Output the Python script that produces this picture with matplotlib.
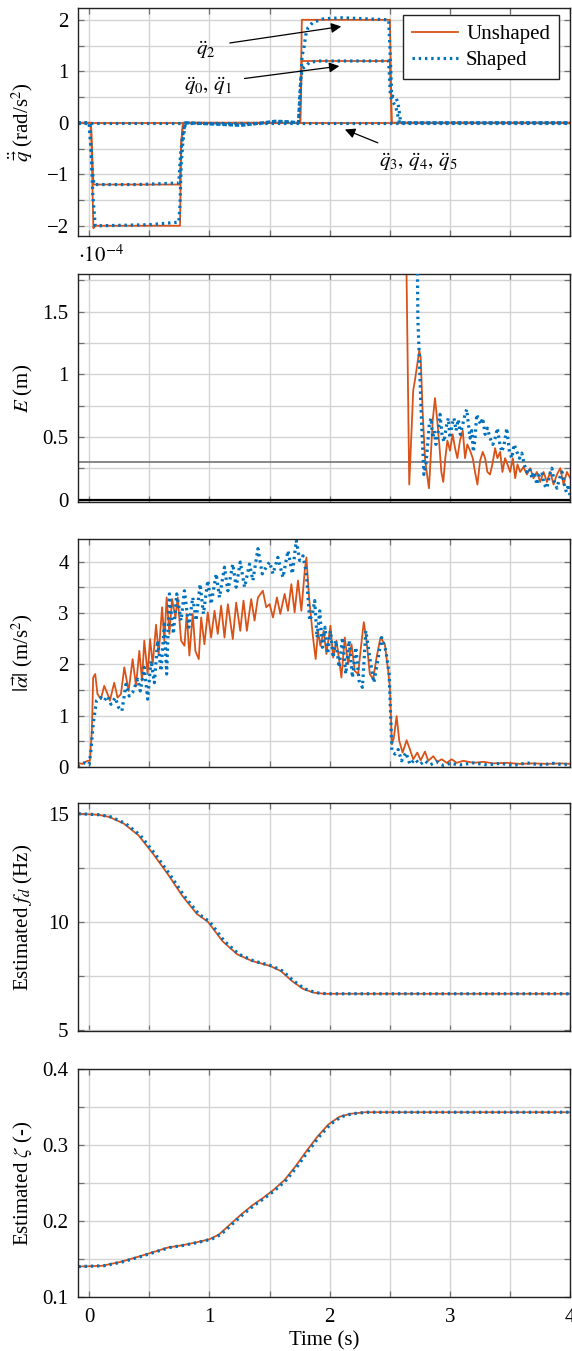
import matplotlib
matplotlib.use("Agg")
import matplotlib.pyplot as plt
from matplotlib.ticker import MultipleLocator, FuncFormatter

plt.rcParams['font.family'] = ['Liberation Serif', 'DejaVu Serif']
plt.rcParams['mathtext.fontset'] = 'stix'
plt.rcParams['font.size'] = 15

C_U = '#D95319'
C_S = '#0072BD'

# ---------------- Panel 1: joint accelerations ----------------
t_q2_u = [-0.09, 0.015, 0.035, 0.045, 0.755, 0.765, 0.78, 1.755, 1.768, 2.5, 2.515, 4.0]
q2_u = [0, 0, -2.05, -2.0, -2.0, -0.4, 0, 0, 2.0, 2.0, 0, 0]
t_q01_u = [-0.09, 0.015, 0.035, 0.755, 0.765, 0.78, 1.755, 1.768, 2.5, 2.515, 4.0]
q01_u = [0, 0, -1.2, -1.2, -0.4, 0, 0, 1.2, 1.2, 0, 0]
t_q345 = [-0.09, 4.0]
q345 = [0, 0]

t_q2_s = [-0.09, 0.0, 0.015, 0.03, 0.05, 0.1, 0.5, 0.745, 0.755, 0.765, 0.78, 0.8, 1.0, 1.26,
          1.45, 1.55, 1.65, 1.74, 1.755, 1.77, 1.785, 1.80, 1.82, 1.86, 1.95, 2.1, 2.3, 2.49,
          2.505, 2.515, 2.55, 2.57, 2.59, 4.0]
q2_s = [0, 0, -0.5, -1.4, -2.0, -2.0, -1.98, -1.93, -1.6, -0.8, -0.35, 0.0, -0.02, -0.05,
        0.0, 0.03, 0.02, 0.0, 0.6, 1.3, 1.45, 1.7, 1.85, 1.95, 2.02, 2.04, 2.02, 2.0,
        1.2, 0.52, 0.5, 0.35, 0.0, 0]
t_q01_s = [-0.09, 0.0, 0.01, 0.025, 0.04, 0.4, 0.745, 0.76, 0.78, 0.8, 1.0, 1.26, 1.45, 1.55,
           1.65, 1.74, 1.75, 1.76, 1.775, 1.80, 1.83, 1.9, 2.49, 2.505, 2.55, 2.58, 4.0]
q01_s = [0, 0, -0.3, -0.9, -1.2, -1.2, -1.17, -0.6, -0.2, 0.0, -0.02, -0.05, 0.0, 0.03,
         0.02, 0.0, 0.5, 0.9, 1.05, 1.1, 1.17, 1.2, 1.2, 0.5, 0.3, 0.0, 0]

# ---------------- Panel 2: error E (units of 1e-4 m) ----------------
t_E_u = [2.62, 2.628, 2.661, 2.681, 2.694, 2.708, 2.728, 2.744, 2.756, 2.772, 2.792, 2.806,
         2.825, 2.839, 2.856, 2.875, 2.894, 2.911, 2.928, 2.944, 2.961, 2.978, 3.0, 3.022,
         3.042, 3.061, 3.083, 3.106, 3.125, 3.144, 3.167, 3.189, 3.208, 3.228, 3.25, 3.272,
         3.292, 3.311, 3.333, 3.356, 3.375, 3.394, 3.417, 3.436, 3.458, 3.478, 3.5, 3.522,
         3.542, 3.561, 3.583, 3.611, 3.639, 3.667, 3.694, 3.722, 3.75, 3.778, 3.806, 3.833,
         3.861, 3.889, 3.917, 3.944, 3.972, 4.0]
E_u = [3.0, 2.6, 0.12, 0.57, 0.87, 0.95, 1.08, 1.19, 1.14, 0.71, 0.33, 0.22,
       0.09, 0.33, 0.63, 0.81, 0.63, 0.44, 0.22, 0.14, 0.33, 0.47, 0.39, 0.52,
       0.41, 0.33, 0.47, 0.55, 0.33, 0.44, 0.39, 0.33, 0.22, 0.12, 0.31, 0.38,
       0.33, 0.22, 0.20, 0.30, 0.41, 0.33, 0.38, 0.22, 0.33, 0.28, 0.22, 0.33,
       0.17, 0.28, 0.22, 0.26, 0.20, 0.25, 0.17, 0.22, 0.14, 0.22, 0.14, 0.22,
       0.12, 0.20, 0.25, 0.12, 0.22, 0.17]
t_E_s = [2.715, 2.722, 2.733, 2.744, 2.756, 2.769, 2.783, 2.8, 2.814, 2.828, 2.842, 2.856,
         2.869, 2.883, 2.903, 2.917, 2.933, 2.95, 2.967, 2.986, 3.0, 3.017, 3.033, 3.05,
         3.069, 3.086, 3.106, 3.125, 3.139, 3.153, 3.167, 3.181, 3.194, 3.208, 3.222, 3.239,
         3.256, 3.272, 3.292, 3.311, 3.333, 3.356, 3.375, 3.394, 3.411, 3.431, 3.45, 3.472,
         3.494, 3.514, 3.533, 3.556, 3.578, 3.597, 3.617, 3.639, 3.661, 3.681, 3.7, 3.722,
         3.744, 3.764, 3.783, 3.806, 3.828, 3.847, 3.867, 3.889, 3.911, 3.931, 3.95, 3.967,
         3.986, 4.0]
E_s = [3.0, 2.6, 1.43, 1.16, 0.81, 0.49, 0.20, 0.28, 0.44, 0.60, 0.65, 0.49,
       0.55, 0.44, 0.55, 0.68, 0.52, 0.46, 0.57, 0.65, 0.49, 0.60, 0.65, 0.55,
       0.64, 0.52, 0.60, 0.68, 0.72, 0.60, 0.49, 0.55, 0.38, 0.49, 0.68, 0.63,
       0.60, 0.65, 0.52, 0.57, 0.49, 0.44, 0.49, 0.57, 0.46, 0.38, 0.44, 0.57,
       0.38, 0.33, 0.44, 0.38, 0.33, 0.37, 0.28, 0.22, 0.25, 0.17, 0.22, 0.12,
       0.20, 0.22, 0.12, 0.09, 0.20, 0.25, 0.14, 0.09, 0.17, 0.22, 0.12, 0.06,
       0.12, 0.01]
E_threshold = 0.3

# ---------------- Panel 3: |alpha| ----------------
t_a_u = [-0.097, -0.056, -0.014, 0.006, 0.022, 0.033, 0.05, 0.069, 0.097, 0.125, 0.153, 0.172,
         0.208, 0.236, 0.264, 0.292, 0.328, 0.361, 0.389, 0.417, 0.439, 0.458, 0.486, 0.506,
         0.528, 0.556, 0.578, 0.606, 0.625, 0.644, 0.667, 0.689, 0.717, 0.736, 0.764, 0.792,
         0.811, 0.833, 0.861, 0.883, 0.911, 0.931, 0.958, 0.986, 1.014, 1.042, 1.069, 1.097,
         1.125, 1.153, 1.194, 1.222, 1.256, 1.283, 1.311, 1.347, 1.375, 1.403, 1.444, 1.472,
         1.5, 1.528, 1.561, 1.589, 1.625, 1.653, 1.681, 1.708, 1.736, 1.764, 1.792, 1.806,
         1.828, 1.861, 1.883, 1.903, 1.922, 1.95, 1.972, 2.006, 2.028, 2.056, 2.083, 2.097,
         2.125, 2.153, 2.181, 2.208, 2.236, 2.256, 2.283, 2.306, 2.333, 2.361, 2.389, 2.422,
         2.458, 2.486, 2.5, 2.517, 2.533, 2.556, 2.578, 2.606, 2.639, 2.667, 2.694, 2.728,
         2.756, 2.792, 2.819, 2.861, 2.894, 2.931, 2.972, 3.014, 3.056, 3.111, 3.194, 3.278,
         3.361, 3.472, 3.583, 3.694, 3.806, 3.917, 4.0]
a_u = [0.08, 0.06, 0.12, 0.12, 0.70, 1.74, 1.81, 1.42, 1.32, 1.58, 1.42, 1.29,
       1.64, 1.35, 1.42, 1.94, 1.48, 2.10, 1.58, 2.26, 1.68, 2.46, 1.81, 2.49,
       2.00, 2.77, 2.20, 3.11, 2.46, 3.30, 2.59, 3.27, 2.91, 3.30, 2.46, 2.36,
       2.98, 2.17, 2.98, 2.26, 2.10, 2.91, 2.39, 3.01, 2.52, 3.04, 2.59, 3.14,
       2.52, 3.17, 2.49, 3.20, 2.65, 3.24, 2.65, 3.27, 2.85, 3.30, 3.43, 3.11,
       3.17, 2.91, 3.30, 2.98, 3.37, 3.04, 3.56, 3.01, 3.63, 3.04, 3.82, 4.08,
       3.30, 2.52, 2.10, 2.65, 2.36, 2.65, 2.20, 2.75, 2.13, 2.46, 2.00, 1.74,
       2.52, 2.00, 2.39, 1.87, 1.81, 2.26, 2.82, 2.46, 1.81, 1.71, 2.13, 2.52,
       2.39, 1.87, 1.55, 0.44, 0.57, 0.99, 0.51, 0.28, 0.52, 0.34, 0.15, 0.28,
       0.13, 0.30, 0.12, 0.21, 0.10, 0.15, 0.08, 0.15, 0.08, 0.12, 0.08, 0.10,
       0.07, 0.08, 0.06, 0.07, 0.06, 0.07, 0.06]
t_a_s = [-0.097, -0.042, 0.0, 0.014, 0.033, 0.061, 0.097, 0.125, 0.153, 0.181, 0.217, 0.244,
         0.272, 0.306, 0.333, 0.361, 0.403, 0.425, 0.458, 0.486, 0.514, 0.542, 0.569, 0.597,
         0.625, 0.644, 0.667, 0.7, 0.728, 0.764, 0.792, 0.828, 0.861, 0.889, 0.922, 0.95,
         0.986, 1.014, 1.056, 1.083, 1.125, 1.153, 1.194, 1.222, 1.256, 1.292, 1.333, 1.361,
         1.403, 1.439, 1.472, 1.5, 1.528, 1.569, 1.611, 1.653, 1.689, 1.722, 1.75, 1.778,
         1.806, 1.833, 1.856, 1.875, 1.894, 1.917, 1.939, 1.961, 1.983, 2.006, 2.028, 2.05,
         2.078, 2.106, 2.133, 2.161, 2.189, 2.217, 2.244, 2.272, 2.3, 2.333, 2.367, 2.394,
         2.431, 2.467, 2.494, 2.517, 2.542, 2.569, 2.597, 2.633, 2.667, 2.708, 2.75, 2.792,
         2.833, 2.889, 2.944, 3.0, 3.083, 3.194, 3.306, 3.417, 3.528, 3.639, 3.75, 3.861,
         3.944, 4.0]
a_s = [0.02, 0.08, 0.05, 0.31, 0.83, 1.29, 1.35, 1.29, 1.38, 1.22, 1.35, 1.16,
       1.09, 1.61, 1.38, 1.45, 1.71, 1.48, 1.94, 1.32, 2.07, 1.64, 2.46, 1.87,
       2.78, 1.81, 3.37, 2.59, 3.37, 2.85, 3.43, 2.72, 3.30, 2.85, 3.56, 2.98,
       3.63, 3.17, 3.76, 3.30, 3.89, 3.43, 3.95, 3.50, 3.99, 3.50, 3.95, 3.63,
       4.25, 3.76, 3.89, 3.99, 3.76, 4.08, 3.69, 4.21, 3.76, 4.41, 4.02, 4.11,
       3.76, 2.85, 2.98, 3.24, 2.52, 3.04, 2.33, 2.72, 2.20, 2.65, 2.13, 2.46,
       1.94, 2.52, 1.81, 2.46, 1.74, 2.33, 1.68, 1.55, 2.65, 2.13, 1.64, 2.00,
       2.52, 2.26, 1.81, 0.31, 0.25, 0.34, 0.12, 0.28, 0.05, 0.15, 0.05, 0.12,
       0.04, 0.10, 0.03, 0.07, 0.04, 0.08, 0.04, 0.07, 0.03, 0.08, 0.04, 0.07,
       0.04, 0.07]

# ---------------- Panel 4: estimated f_d ----------------
t_fd_u = [-0.09, 0.076, 0.167, 0.289, 0.41, 0.532, 0.653, 0.774, 0.896, 0.987, 1.109, 1.23,
          1.352, 1.503, 1.594, 1.686, 1.777, 1.868, 1.959, 2.05, 4.0]
fd_u = [15.0, 14.95, 14.85, 14.54, 14.0, 13.14, 12.21, 11.2, 10.36, 10.0, 9.1, 8.5,
        8.19, 7.96, 7.72, 7.26, 6.9, 6.72, 6.67, 6.67, 6.67]
t_fd_s = [-0.09, 0.09, 0.182, 0.304, 0.425, 0.547, 0.668, 0.789, 0.911, 1.002, 1.124, 1.245,
          1.367, 1.518, 1.609, 1.701, 1.792, 1.883, 1.974, 2.065, 4.0]
fd_s = fd_u

# ---------------- Panel 5: estimated zeta ----------------
t_z_u = [-0.09, 0.106, 0.258, 0.41, 0.532, 0.653, 0.774, 0.896, 1.002, 1.078, 1.169, 1.26,
         1.352, 1.443, 1.534, 1.625, 1.716, 1.807, 1.898, 1.989, 2.08, 2.172, 2.293, 4.0]
z_u = [0.140, 0.141, 0.146, 0.153, 0.159, 0.165, 0.168, 0.172, 0.176, 0.182, 0.195, 0.208,
       0.220, 0.230, 0.241, 0.254, 0.272, 0.292, 0.311, 0.327, 0.337, 0.341, 0.343, 0.343]
t_z_s = [-0.09, 0.121, 0.273, 0.425, 0.547, 0.668, 0.789, 0.911, 1.017, 1.093, 1.184, 1.275,
         1.367, 1.458, 1.549, 1.64, 1.731, 1.822, 1.913, 2.004, 2.095, 2.187, 2.308, 4.0]
z_s = z_u

# ---------------- Figure ----------------
fig = plt.figure(figsize=(5.72, 13.51), dpi=100)
left, width, h = 0.137, 0.86, 0.1688
bottoms = [0.8253, 0.6284, 0.4323, 0.2369, 0.0400]
axes = [fig.add_axes([left, b, width, h]) for b in bottoms]

lw_u = 1.3
lw_s = 2.3
ls_s = (0, (0.75, 1.2))


def style(ax, ylim, ymaj, ymin, show_x=False):
    ax.set_xlim(-0.09, 4.0)
    ax.set_ylim(*ylim)
    ax.xaxis.set_major_locator(MultipleLocator(1))
    ax.xaxis.set_minor_locator(MultipleLocator(0.5))
    ax.yaxis.set_major_locator(MultipleLocator(ymaj))
    ax.yaxis.set_minor_locator(MultipleLocator(ymin))
    ax.grid(True, which='both', color='#d4d4d4', linewidth=1.0, zorder=0)
    ax.set_axisbelow(True)
    ax.tick_params(which='both', direction='in', top=True, right=True,
                   length=4.5, width=0.9, color='#707070', labelsize=15)
    ax.tick_params(axis='y', pad=7)
    ax.tick_params(axis='x', labelbottom=show_x, pad=8)
    for s in ax.spines.values():
        s.set_color('#222222')
        s.set_linewidth(1.0)
    ax.yaxis.set_label_coords(-0.088, 0.5)


# Panel 1
ax = axes[0]
ax.plot(t_q2_u, q2_u, color=C_U, lw=lw_u, label='Unshaped')
ax.plot(t_q01_u, q01_u, color=C_U, lw=lw_u)
ax.plot(t_q345, q345, color=C_U, lw=lw_u)
ax.plot(t_q2_s, q2_s, color=C_S, lw=lw_s, ls=ls_s, label='Shaped')
ax.plot(t_q01_s, q01_s, color=C_S, lw=lw_s, ls=ls_s)
ax.plot(t_q345, q345, color=C_S, lw=lw_s, ls=ls_s)
style(ax, (-2.2, 2.23), 1, 0.5)
ax.set_ylabel(r'$\ddot{\vec{q}}$ (rad/s$^2$)')
arrow = dict(arrowstyle='-|>', color='black', lw=0.9, mutation_scale=15, shrinkA=0, shrinkB=0)
ax.annotate('', xy=(2.096, 1.87), xytext=(1.169, 1.55), arrowprops=arrow)
ax.annotate('', xy=(2.08, 1.10), xytext=(1.291, 0.86), arrowprops=arrow)
ax.annotate('', xy=(2.126, -0.13), xytext=(2.40, -0.39), arrowprops=arrow)
ax.text(0.972, 1.42, r'$\ddot{q}_2$', ha='center', va='center', fontsize=15)
ax.text(0.987, 0.72, r'$\ddot{q}_0,\,\ddot{q}_1$', ha='center', va='center', fontsize=15)
ax.text(2.733, -0.77, r'$\ddot{q}_3,\,\ddot{q}_4,\,\ddot{q}_5$', ha='center', va='center', fontsize=15)
leg = ax.legend(loc='upper right', bbox_to_anchor=(0.978, 0.969), borderaxespad=0,
                fancybox=False, framealpha=1, edgecolor='#222222', fontsize=15,
                handlelength=2.2, handletextpad=0.4, borderpad=0.45, labelspacing=0.3)
leg.get_frame().set_linewidth(1.0)

# Panel 2
ax = axes[1]
ax.axhline(0, color='black', lw=1.6, zorder=1)
ax.axhline(E_threshold, color='#7f7f7f', lw=1.3, zorder=1)
ax.plot(t_E_u, E_u, color=C_U, lw=lw_u, zorder=2)
ax.plot(t_E_s, E_s, color=C_S, lw=lw_s, ls=ls_s, zorder=3)
style(ax, (-0.02, 1.8), 0.5, 0.25)
ax.yaxis.set_major_formatter(FuncFormatter(lambda v, p: f'{v:g}'))
ax.set_ylabel(r'$E$ (m)')
ax.text(0.0, 1.03, r'$\cdot10^{-4}$', transform=ax.transAxes, ha='left', va='bottom',
        fontsize=15)

# Panel 3
ax = axes[2]
ax.plot(t_a_u, a_u, color=C_U, lw=lw_u)
ax.plot(t_a_s, a_s, color=C_S, lw=lw_s, ls=ls_s)
style(ax, (0, 4.44), 1, 0.5)
ax.set_ylabel(r'$|\vec{\alpha}|$ (m/s$^2$)')

# Panel 4
ax = axes[3]
ax.plot(t_fd_u, fd_u, color=C_U, lw=lw_u)
ax.plot(t_fd_s, fd_s, color=C_S, lw=lw_s, ls=ls_s)
style(ax, (4.95, 15.5), 5, 2.5)
ax.set_ylabel(r'Estimated $f_d$ (Hz)')

# Panel 5
ax = axes[4]
ax.plot(t_z_u, z_u, color=C_U, lw=lw_u)
ax.plot(t_z_s, z_s, color=C_S, lw=lw_s, ls=ls_s)
style(ax, (0.1, 0.4), 0.1, 0.05, show_x=True)
ax.yaxis.set_major_formatter(FuncFormatter(lambda v, p: f'{v:g}'))
ax.set_ylabel(r'Estimated $\zeta$ (-)')
ax.set_xlabel('Time (s)', labelpad=3)

fig.savefig('out.png', dpi=100)
